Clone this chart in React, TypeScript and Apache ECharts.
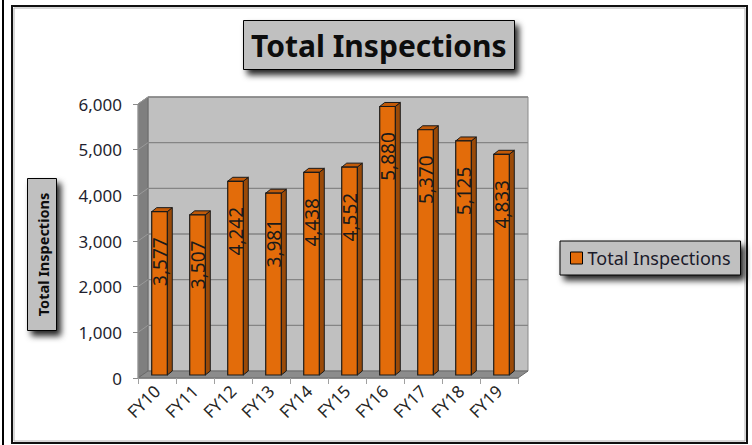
import React, { useEffect, useRef } from "react";
import * as echarts from "echarts";

const categories = ["FY10", "FY11", "FY12", "FY13", "FY14", "FY15", "FY16", "FY17", "FY18", "FY19"];
const inspections = [3577, 3507, 4242, 3981, 4438, 4552, 5880, 5370, 5125, 4833];
const yTicks = [0, 1000, 2000, 3000, 4000, 5000, 6000];
const seriesName = "Total Inspections";

const FONT = "Noto Sans";
const DEPTH_X = 10;
const DEPTH_Y = -7;

export default function App() {
  const ref = useRef<HTMLDivElement>(null);
  useEffect(() => {
    if (!ref.current) return;
    const chart = echarts.init(ref.current, null, { renderer: "svg" });

    const wallItem = (params: any, api: any) => {
      const cs = params.coordSys;
      const x0 = cs.x, x1 = cs.x + cs.width;
      const yb = cs.y + cs.height, yt = cs.y;
      const children: any[] = [];
      children.push({
        type: "polygon",
        shape: { points: [[x0 + DEPTH_X, yt + DEPTH_Y], [x1 + DEPTH_X, yt + DEPTH_Y], [x1 + DEPTH_X, yb + DEPTH_Y], [x0 + DEPTH_X, yb + DEPTH_Y]] },
        style: { fill: "#c0c0c0", stroke: "#8a8a8a", lineWidth: 1 },
      });
      children.push({
        type: "polygon",
        shape: { points: [[x0, yt], [x0 + DEPTH_X, yt + DEPTH_Y], [x0 + DEPTH_X, yb + DEPTH_Y], [x0, yb]] },
        style: { fill: "#7f7f7f", stroke: "#6a6a6a", lineWidth: 1 },
      });
      children.push({
        type: "polygon",
        shape: { points: [[x0, yb], [x0 + DEPTH_X, yb + DEPTH_Y], [x1 + DEPTH_X, yb + DEPTH_Y], [x1, yb]] },
        style: { fill: "#8c8c8c", stroke: "#6a6a6a", lineWidth: 1 },
      });
      yTicks.forEach((t) => {
        if (t === 0) return;
        const y = api.coord([0, t])[1];
        children.push({
          type: "line",
          shape: { x1: x0, y1: y, x2: x0 + DEPTH_X, y2: y + DEPTH_Y },
          style: { stroke: "#9a9a9a", lineWidth: 1 },
        });
        children.push({
          type: "line",
          shape: { x1: x0 + DEPTH_X, y1: y + DEPTH_Y, x2: x1 + DEPTH_X, y2: y + DEPTH_Y },
          style: { stroke: "#858585", lineWidth: 1.3 },
        });
      });
      return { type: "group", children };
    };

    const barItem = (params: any, api: any) => {
      const i = api.value(0);
      const v = api.value(1);
      const top = api.coord([i, v]);
      const base = api.coord([i, 0]);
      const bw = api.size([1, 0])[0] * 0.41;
      const cx = top[0] + 2.5;
      const xl = cx - bw / 2, xr = cx + bw / 2;
      const yt = top[1] - 3, yb = base[1] - 3;
      const dx = 5, dy = -4;
      const stroke = "#1a1a1a";
      return {
        type: "group",
        children: [
          {
            type: "polygon",
            shape: { points: [[xr, yt], [xr + dx, yt + dy], [xr + dx, yb + dy], [xr, yb]] },
            style: { fill: "#9a4a08", stroke, lineWidth: 1 },
          },
          {
            type: "polygon",
            shape: { points: [[xl, yt], [xl + dx, yt + dy], [xr + dx, yt + dy], [xr, yt]] },
            style: { fill: "#c25a08", stroke, lineWidth: 1 },
          },
          {
            type: "rect",
            shape: { x: xl, y: yt, width: bw, height: yb - yt },
            style: { fill: "#e36c0a", stroke, lineWidth: 1.2 },
          },
          {
            type: "text",
            x: cx,
            y: yt + 50,
            rotation: Math.PI / 2,
            style: {
              text: v.toLocaleString("en-US"),
              fill: "#1a1a1a",
              font: `19px "${FONT}"`,
              align: "center",
              verticalAlign: "middle",
            },
            z2: 10,
          },
        ],
      };
    };

    chart.setOption({
      animation: false,
      textStyle: { fontFamily: FONT },
      title: {
        text: "Total Inspections",
        left: 243,
        top: 20,
        padding: [5, 8, 5, 8],
        backgroundColor: "#c0c0c0",
        borderColor: "#000",
        borderWidth: 1,
        shadowBlur: 6,
        shadowColor: "rgba(0,0,0,0.85)",
        shadowOffsetX: 4,
        shadowOffsetY: 5,
        textStyle: { fontFamily: FONT, fontWeight: "bold", fontSize: 30, color: "#0d0d0d", lineHeight: 40 },
      },
      legend: {
        data: [seriesName],
        left: 560,
        top: 241,
        orient: "vertical",
        padding: [8, 10, 8, 10],
        itemWidth: 12,
        itemHeight: 12,
        itemGap: 5,
        icon: "rect",
        backgroundColor: "#c0c0c0",
        borderColor: "#000",
        borderWidth: 1,
        shadowBlur: 6,
        shadowColor: "rgba(0,0,0,0.85)",
        shadowOffsetX: 4,
        shadowOffsetY: 5,
        itemStyle: { borderColor: "#000", borderWidth: 1 },
        textStyle: { fontFamily: FONT, fontSize: 18, color: "#1a1a2a", padding: [0, 0, 0, 0] },
      },
      grid: { left: 138, top: 104, width: 380, height: 274 },
      xAxis: {
        type: "category",
        data: categories,
        axisLine: { show: true, lineStyle: { color: "#8a8a8a", width: 1 } },
        axisTick: { show: true, length: 6, lineStyle: { color: "#a0a0a0" } },
        axisLabel: { rotate: 45, margin: 10, fontSize: 17, color: "#262626", fontFamily: FONT },
        z: 5,
      },
      yAxis: {
        type: "value",
        min: 0,
        max: 6000,
        interval: 1000,
        axisLine: { show: true, lineStyle: { color: "#8a8a8a", width: 1 } },
        axisTick: { show: true, length: 5, lineStyle: { color: "#8a8a8a" } },
        axisLabel: {
          margin: 16,
          fontSize: 17,
          color: "#1f1f2f",
          fontFamily: FONT,
          formatter: (v: number) => v.toLocaleString("en-US"),
        },
        splitLine: { show: false },
        z: 5,
      },
      graphic: [
        {
          type: "line",
          shape: { x1: 3, y1: 0, x2: 3, y2: 445 },
          style: { stroke: "#000", lineWidth: 2 },
          silent: true,
        },
        {
          type: "rect",
          shape: { x: 12, y: 6, width: 735, height: 437 },
          style: { fill: "none", stroke: "#111", lineWidth: 2 },
          silent: true,
        },
        {
          type: "rect",
          shape: { x: 14, y: 8, width: 731, height: 433 },
          style: { fill: "none", stroke: "#b0b0b0", lineWidth: 1 },
          silent: true,
        },
        {
          type: "group",
          left: 27,
          top: 178,
          children: [
            {
              type: "rect",
              shape: { x: 0, y: 0, width: 29, height: 152 },
              style: {
                fill: "#c0c0c0",
                stroke: "#000",
                lineWidth: 1,
                shadowBlur: 6,
                shadowColor: "rgba(0,0,0,0.85)",
                shadowOffsetX: 4,
                shadowOffsetY: 5,
              },
            },
            {
              type: "text",
              x: 15,
              y: 76,
              rotation: Math.PI / 2,
              style: {
                text: "Total Inspections",
                font: `bold 14.5px "${FONT}"`,
                fill: "#0d0d0d",
                align: "center",
                verticalAlign: "middle",
              },
            },
          ],
        },
      ],
      series: [
        {
          type: "custom",
          name: "walls",
          renderItem: wallItem,
          data: [[0, 0]],
          silent: true,
          z: 1,
        },
        {
          type: "custom",
          name: seriesName,
          renderItem: barItem,
          data: inspections.map((v, i) => [i, v]),
          itemStyle: { color: "#e36c0a" },
          encode: { x: 0, y: 1 },
          z: 3,
        },
      ],
    });
    return () => chart.dispose();
  }, []);

  return (
    <div
      ref={ref}
      style={{ position: "fixed", left: 0, top: 0, width: 752, height: 445, background: "#fff" }}
    />
  );
}
